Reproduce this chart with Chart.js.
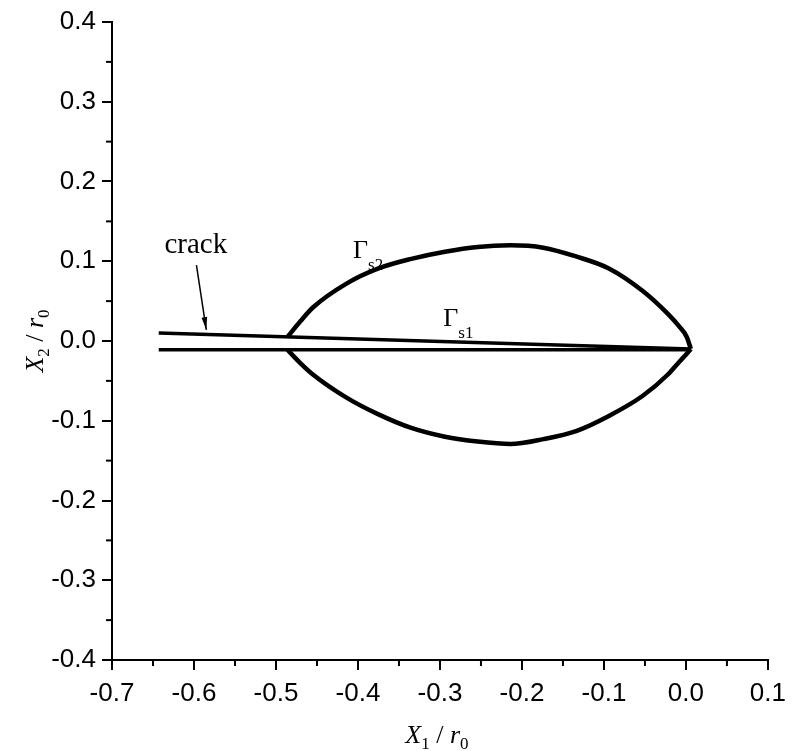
<!DOCTYPE html>
<html>
<head>
<meta charset="utf-8">
<script src="https://cdn.jsdelivr.net/npm/chart.js@4.4.0/dist/chart.umd.min.js"></script>
<style>
  body { margin: 0; background: #fff; }
  canvas { display: block; }
</style>
</head>
<body>
<canvas id="shapeChart" width="794" height="751"></canvas>
<script>
/* data */
const crackX = [-0.643, 0.006];
const crackUpperY = [0.010, -0.010];
const crackLowerY = [-0.011, -0.011];

const gammaX = [-0.486, -0.470, -0.455, -0.414, -0.375, -0.335, -0.294, -0.254, -0.214, -0.174, -0.134, -0.094, -0.053, -0.022, -0.008, 0.001, 0.006];
const gammaUpperY = [0.005, 0.025, 0.042, 0.072, 0.091, 0.103, 0.112, 0.118, 0.120, 0.117, 0.106, 0.091, 0.063, 0.034, 0.018, 0.005, -0.010];
const gammaLowerY = [-0.011, -0.028, -0.042, -0.071, -0.092, -0.109, -0.120, -0.126, -0.129, -0.123, -0.113, -0.094, -0.069, -0.042, -0.026, -0.016, -0.010];

const xTicks = [-0.7, -0.6, -0.5, -0.4, -0.3, -0.2, -0.1, 0.0, 0.1];
const yTicks = [-0.4, -0.3, -0.2, -0.1, 0.0, 0.1, 0.2, 0.3, 0.4];

const toPoints = (xs, ys) => xs.map((x, i) => ({ x: x, y: ys[i] }));

const SERIF = "'Liberation Serif', 'Times New Roman', serif";
const SANS = "'Liberation Sans', Arial, sans-serif";

function line(data, width, smooth) {
  return {
    data: data,
    showLine: true,
    borderColor: "#000",
    borderWidth: width,
    pointRadius: 0,
    cubicInterpolationMode: smooth ? "monotone" : "default",
    tension: 0,
    borderJoinStyle: "round",
    fill: false
  };
}

// draw a run of text pieces (font + baseline shift), centred on cx
function richText(ctx, parts, cx, base) {
  let total = 0;
  parts.forEach(p => { ctx.font = p.font; total += ctx.measureText(p.t).width; });
  let x = cx - total / 2;
  parts.forEach(p => {
    ctx.font = p.font;
    ctx.fillText(p.t, x, base + (p.dy || 0));
    x += ctx.measureText(p.t).width;
  });
}

function gammaLabel(ctx, sub, x, y) {
  ctx.font = "26px " + SERIF;
  ctx.textAlign = "left";
  ctx.fillText("\u0393", x, y);
  const w = ctx.measureText("\u0393").width;
  ctx.font = "17px " + SERIF;
  ctx.fillText(sub, x + w, y + 12);
}

const extras = {
  id: "extras",
  afterDraw(chart) {
    const ctx = chart.ctx;
    const xs = chart.scales.x, ys = chart.scales.y;
    ctx.save();
    ctx.fillStyle = "#000";
    ctx.strokeStyle = "#000";

    // minor ticks halfway between the major ones
    ctx.lineWidth = 2;
    const bottom = chart.chartArea.bottom, left = chart.chartArea.left;
    for (let i = 0; i < xTicks.length - 1; i++) {
      const px = xs.getPixelForValue((xTicks[i] + xTicks[i + 1]) / 2);
      ctx.beginPath(); ctx.moveTo(px, bottom); ctx.lineTo(px, bottom + 6); ctx.stroke();
    }
    for (let i = 0; i < yTicks.length - 1; i++) {
      const py = ys.getPixelForValue((yTicks[i] + yTicks[i + 1]) / 2);
      ctx.beginPath(); ctx.moveTo(left, py); ctx.lineTo(left - 6, py); ctx.stroke();
    }

    // "crack" label and arrow
    ctx.textBaseline = "alphabetic";
    ctx.textAlign = "left";
    ctx.font = "29px " + SERIF;
    ctx.fillText("crack", xs.getPixelForValue(-0.636), ys.getPixelForValue(0.110));

    const ax0 = xs.getPixelForValue(-0.597), ay0 = ys.getPixelForValue(0.095);
    const ax1 = xs.getPixelForValue(-0.585), ay1 = ys.getPixelForValue(0.014);
    ctx.lineWidth = 1.5;
    ctx.beginPath(); ctx.moveTo(ax0, ay0); ctx.lineTo(ax1, ay1); ctx.stroke();
    const ang = Math.atan2(ay1 - ay0, ax1 - ax0);
    const hl = 13, hw = 0.22;
    ctx.beginPath();
    ctx.moveTo(ax1, ay1);
    ctx.lineTo(ax1 - hl * Math.cos(ang - hw), ay1 - hl * Math.sin(ang - hw));
    ctx.lineTo(ax1 - hl * Math.cos(ang + hw), ay1 - hl * Math.sin(ang + hw));
    ctx.closePath();
    ctx.fill();

    gammaLabel(ctx, "s2", xs.getPixelForValue(-0.406), ys.getPixelForValue(0.104));
    gammaLabel(ctx, "s1", xs.getPixelForValue(-0.296), ys.getPixelForValue(0.019));

    // axis titles
    const it = "italic 26px " + SERIF, up = "26px " + SERIF, sb = "17px " + SERIF;
    const cx = (chart.chartArea.left + chart.chartArea.right) / 2;
    richText(ctx, [
      { t: "X", font: it }, { t: "1", font: sb, dy: 6 },
      { t: " / ", font: up }, { t: "r", font: it }, { t: "0", font: sb, dy: 6 }
    ], cx - 3, 743);

    const cy = (chart.chartArea.top + chart.chartArea.bottom) / 2;
    ctx.translate(43, cy);
    ctx.rotate(-Math.PI / 2);
    richText(ctx, [
      { t: "X", font: it }, { t: "2", font: sb, dy: 6 },
      { t: " / ", font: up }, { t: "r", font: it }, { t: "0", font: sb, dy: 6 }
    ], 0, 0);
    ctx.restore();
  }
};

const fmt = v => (Math.abs(v) < 1e-9 ? "0.0" : v.toFixed(1));

new Chart(document.getElementById("shapeChart"), {
  type: "scatter",
  data: {
    datasets: [
      line(toPoints(crackX, crackUpperY), 3.5, false),
      line(toPoints(crackX, crackLowerY), 3.5, false),
      line(toPoints(gammaX, gammaUpperY), 4.5, true),
      line(toPoints(gammaX, gammaLowerY), 4.5, true)
    ]
  },
  options: {
    responsive: false,
    animation: false,
    layout: { padding: { top: 22, right: 20, left: 0, bottom: 0 } },
    plugins: { legend: { display: false }, tooltip: { enabled: false } },
    scales: {
      x: {
        type: "linear",
        min: xTicks[0],
        max: xTicks[xTicks.length - 1],
        afterBuildTicks: s => { s.ticks = xTicks.map(v => ({ value: v })); },
        afterFit: s => { s.height = 91; },
        border: { color: "#000", width: 2 },
        grid: { drawOnChartArea: false, color: "#000", lineWidth: 2, tickLength: 10 },
        ticks: { color: "#000", padding: 8, maxRotation: 0, font: { family: SANS, size: 26 }, callback: fmt }
      },
      y: {
        type: "linear",
        min: yTicks[0],
        max: yTicks[yTicks.length - 1],
        afterBuildTicks: s => { s.ticks = yTicks.map(v => ({ value: v })); },
        afterFit: s => { s.width = 112; },
        border: { color: "#000", width: 2 },
        grid: { drawOnChartArea: false, color: "#000", lineWidth: 2, tickLength: 10 },
        ticks: { color: "#000", padding: 6, font: { family: SANS, size: 26 }, callback: fmt }
      }
    }
  },
  plugins: [extras]
});
</script>
</body>
</html>
